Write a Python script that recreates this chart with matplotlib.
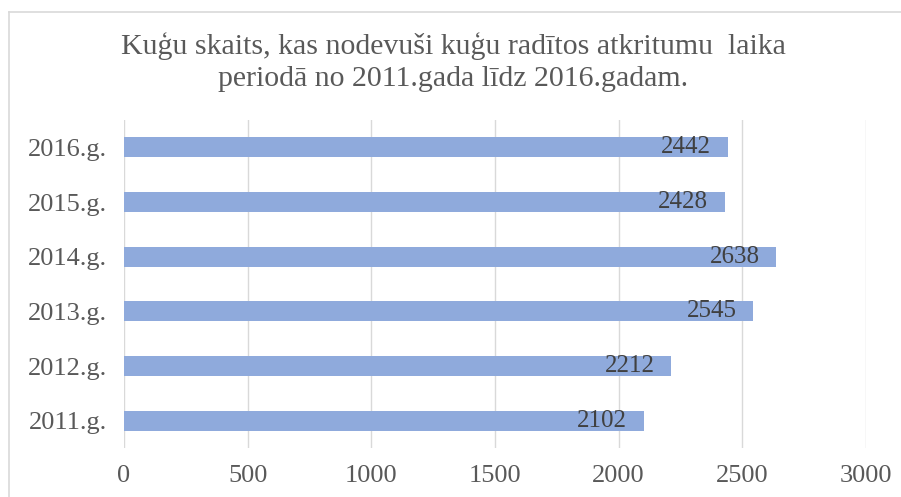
import matplotlib.pyplot as plt
from matplotlib.lines import Line2D

# chart data
years = ["2011.g.", "2012.g.", "2013.g.", "2014.g.", "2015.g.", "2016.g."]
ships = [2102, 2212, 2545, 2638, 2428, 2442]
x_ticks = [0, 500, 1000, 1500, 2000, 2500, 3000]
title = ("Kuģu skaits, kas nodevuši kuģu radītos atkritumu  laika\n"
         "periodā no 2011.gada līdz 2016.gadam.")

BAR_COLOR = "#8faadc"
GRID_COLOR = "#d9d9d9"
TEXT_COLOR = "#595959"

plt.rcParams["font.family"] = ["Liberation Serif", "DejaVu Serif"]

fig = plt.figure(figsize=(9.01, 4.97), dpi=100)
ax = fig.add_axes([124 / 901, 1 - 448 / 497, (866 - 124) / 901, 328 / 497])

ypos = list(range(len(years)))
ax.barh(ypos, ships, height=0.37, color=BAR_COLOR, zorder=2)

# value labels inside the bar end
for y, v in zip(ypos, ships):
    ax.annotate(str(v), xy=(v, y), xytext=(-12, 0), textcoords="offset points",
                ha="right", va="center", fontsize=18, color="#404040", zorder=3)

ax.set_xlim(0, 3000)
ax.set_ylim(-0.5, len(years) - 0.5)
ax.set_xticks(x_ticks)
ax.set_xticklabels([str(t) for t in x_ticks])
ax.set_yticks(ypos)
ax.set_yticklabels(years)
ax.tick_params(axis="both", length=0, labelsize=19, colors=TEXT_COLOR)
ax.tick_params(axis="x", pad=12)
ax.tick_params(axis="y", pad=12)
ax.grid(axis="x", color=GRID_COLOR, linewidth=1, zorder=0)
for s in ax.spines.values():
    s.set_visible(False)

fig.text(453 / 901, 1 - 62 / 497, title, ha="center", va="center", fontsize=21.5,
         color=TEXT_COLOR, linespacing=1.3)

# chart area border (left and top edges visible)
fig.add_artist(Line2D([9 / 901, 9 / 901], [0, 1 - 12 / 497], color=GRID_COLOR, lw=1.2))
fig.add_artist(Line2D([9 / 901, 1], [1 - 12 / 497, 1 - 12 / 497], color=GRID_COLOR, lw=1.2))

fig.savefig("out.png", dpi=100)
